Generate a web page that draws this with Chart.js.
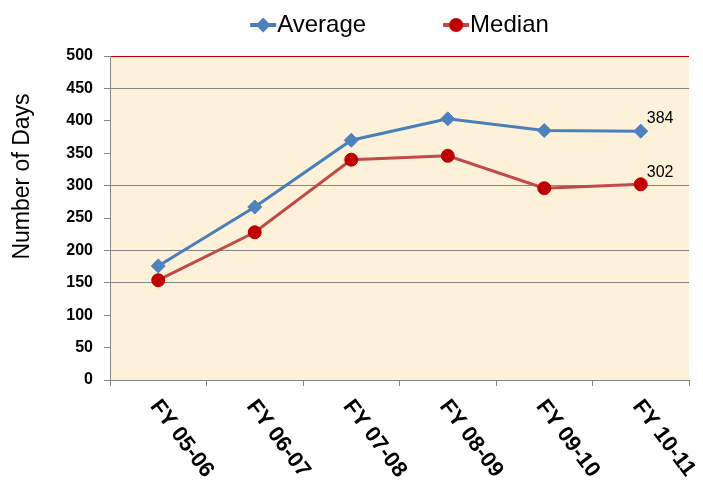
<!DOCTYPE html>
<html><head><meta charset="utf-8">
<script src="https://cdn.jsdelivr.net/npm/chart.js@4/dist/chart.umd.min.js"></script>
<style>html,body{margin:0;padding:0;background:#fff}canvas{display:block}</style>
</head><body>
<canvas id="c" width="703" height="487"></canvas>
<script>
// ---- data ----
const categories = ['FY 05-06', 'FY 06-07', 'FY 07-08', 'FY 08-09', 'FY 09-10', 'FY 10-11'];
const averageDays = [176, 267, 370, 403, 385, 384];
const medianDays = [154, 228, 340, 346, 296, 302];
const seriesNames = ['Average', 'Median'];
const yAxisTitle = 'Number of Days';
const yMin = 0, yMax = 500, yStep = 50;
const visibleGridValues = [150, 200, 300, 450];

// ---- style ----
const FONT = '"Liberation Sans", Arial, Helvetica, sans-serif';
const BLUE_LINE = '#4A7EBB', BLUE_PT = '#4F81BD';
const RED_LINE = '#BE4B48', RED_PT = '#C00000';
const GRID = '#868686';

function drawMarker(ctx, style, x, y, r, color) {
  ctx.save();
  ctx.fillStyle = color;
  ctx.beginPath();
  if (style === 'rectRot') {
    ctx.moveTo(x - r, y); ctx.lineTo(x, y - r); ctx.lineTo(x + r, y); ctx.lineTo(x, y + r); ctx.closePath();
  } else {
    ctx.arc(x, y, r, 0, Math.PI * 2);
  }
  ctx.fill();
  ctx.restore();
}

const customPlugin = {
  id: 'custom',
  beforeDraw(chart) {
    const { ctx, chartArea: a } = chart;
    ctx.save();
    ctx.fillStyle = '#FDF1DA';
    ctx.fillRect(a.left, a.top, a.right - a.left, a.bottom - a.top);
    ctx.restore();
  },
  afterDraw(chart) {
    const { ctx, chartArea: a } = chart;
    const xs = chart.scales.x;

    // rotated x labels
    ctx.save();
    ctx.font = 'bold 22px ' + FONT;
    ctx.fillStyle = '#000';
    ctx.textAlign = 'left';
    ctx.textBaseline = 'top';
    categories.forEach((c, i) => {
      const px = xs.getPixelForValue(i);
      ctx.save();
      ctx.translate(px + 5, a.bottom + 16);
      ctx.rotate(53 * Math.PI / 180);
      ctx.fillText(c, 0, 0);
      ctx.restore();
    });
    ctx.restore();

    // y axis title
    ctx.save();
    ctx.font = '23px ' + FONT;
    ctx.fillStyle = '#000';
    ctx.textAlign = 'center';
    ctx.textBaseline = 'middle';
    ctx.translate(23, 176.5);
    ctx.rotate(-Math.PI / 2);
    ctx.fillText(yAxisTitle, 0, 0);
    ctx.restore();

    // data labels on last points
    ctx.save();
    ctx.font = '16px ' + FONT;
    ctx.fillStyle = '#000';
    ctx.textAlign = 'left';
    ctx.textBaseline = 'alphabetic';
    chart.data.datasets.forEach((ds, di) => {
      const meta = chart.getDatasetMeta(di);
      const last = meta.data[meta.data.length - 1];
      const v = ds.data[ds.data.length - 1];
      ctx.fillText(String(v), last.x + 6, last.y - (di === 0 ? 8 : 7));
    });
    ctx.restore();

    // legend
    ctx.save();
    ctx.font = '24px ' + FONT;
    ctx.textBaseline = 'middle';
    ctx.fillStyle = '#000';
    const symW = 26, textGap = 1, itemGap = 77;
    const items = [
      { name: seriesNames[0], line: BLUE_LINE, pt: BLUE_PT, style: 'rectRot', r: 7.5 },
      { name: seriesNames[1], line: RED_LINE, pt: RED_PT, style: 'circle', r: 7 }
    ];
    const widths = items.map(it => ctx.measureText(it.name).width);
    const total = items.reduce((s, it, i) => s + symW + textGap + widths[i], 0) + itemGap * (items.length - 1);
    let x = (a.left + a.right) / 2 - total / 2;
    const ly = 25;
    items.forEach((it, i) => {
      ctx.strokeStyle = it.line;
      ctx.lineWidth = 4;
      ctx.beginPath(); ctx.moveTo(x, ly); ctx.lineTo(x + symW, ly); ctx.stroke();
      drawMarker(ctx, it.style, x + symW / 2, ly, it.r, it.pt);
      ctx.fillStyle = '#000';
      ctx.fillText(it.name, x + symW + textGap, ly);
      x += symW + textGap + widths[i] + itemGap;
    });
    ctx.restore();
  }
};

new Chart(document.getElementById('c'), {
  type: 'line',
  data: {
    labels: categories,
    datasets: [
      {
        label: seriesNames[0], data: averageDays,
        borderColor: BLUE_LINE, borderWidth: 3,
        pointStyle: 'rectRot', pointRadius: 7, pointBorderWidth: 1,
        pointBackgroundColor: BLUE_PT, pointBorderColor: BLUE_PT,
        tension: 0, fill: false
      },
      {
        label: seriesNames[1], data: medianDays,
        borderColor: RED_LINE, borderWidth: 3,
        pointStyle: 'circle', pointRadius: 6.5, pointBorderWidth: 1,
        pointBackgroundColor: RED_PT, pointBorderColor: RED_PT,
        tension: 0, fill: false
      }
    ]
  },
  options: {
    responsive: false,
    animation: false,
    layout: { padding: { top: 56, right: 14, left: 0, bottom: 0 } },
    plugins: { legend: { display: false }, tooltip: { enabled: false } },
    scales: {
      x: {
        type: 'category',
        offset: true,
        grid: { offset: true, drawOnChartArea: false, color: GRID, tickColor: GRID, tickLength: 6 },
        border: { color: GRID, width: 1 },
        ticks: { display: false },
        afterFit(s) { s.height = 107; }
      },
      y: {
        min: yMin, max: yMax,
        grid: {
          color: ctx => {
            const v = ctx.tick ? ctx.tick.value : null;
            if (v === yMax) return RED_PT;
            return visibleGridValues.includes(v) ? GRID : 'rgba(0,0,0,0)';
          },
          tickColor: GRID, tickLength: 6, lineWidth: 1
        },
        border: { color: GRID, width: 1 },
        ticks: {
          stepSize: yStep, color: '#000', padding: 11,
          font: { family: FONT, size: 16, weight: 'bold' }
        },
        afterFit(s) { s.width = 110; }
      }
    }
  },
  plugins: [customPlugin]
});
</script>
</body></html>
